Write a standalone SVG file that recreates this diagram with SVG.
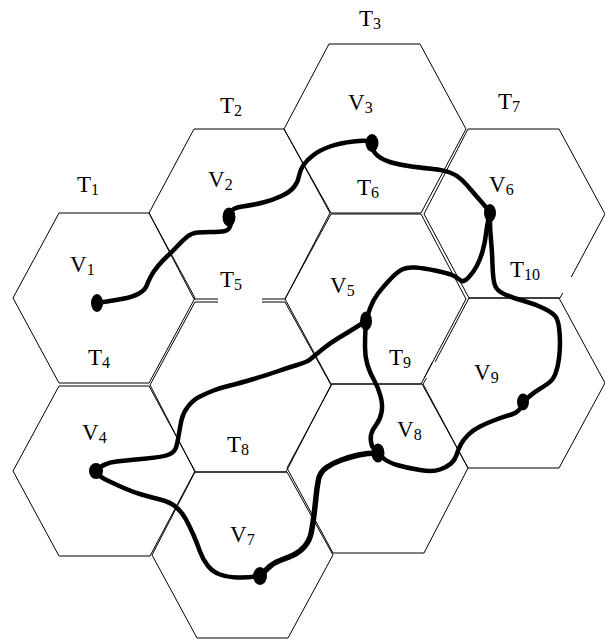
<svg xmlns="http://www.w3.org/2000/svg" width="605" height="642" viewBox="0 0 605 642">
<style>
.hex{fill:none;stroke:#000;stroke-width:1}
.lbl{font-family:"Liberation Serif","Times New Roman",serif;font-size:23px;fill:#000}
.sub{font-size:16px}
.edge{fill:none;stroke:#000;stroke-width:4.5;stroke-linecap:round;stroke-linejoin:round}
.dot{fill:#000}
</style>
<rect width="605" height="642" fill="#fff"/>
<g id="tiles">
<g id="T1"><path class="hex" d="M59,213 L149,213 L195,298 L149,383 L59,383 L13,298 Z"/><text class="lbl" x="77" y="192">T<tspan class="sub" dy="3">1</tspan></text></g>
<g id="T4"><path class="hex" d="M59,386 L149,386 L195,471 L150,556 L59,556 L13,471 Z"/><text class="lbl" x="88" y="365">T<tspan class="sub" dy="3">4</tspan></text></g>
<g id="T2"><path class="hex" d="M149,213 L194,129 L284,129 L330,213 L285,299 L262,299 M218,299 L194,299 L149,213"/><text class="lbl" x="220" y="113">T<tspan class="sub" dy="3">2</tspan></text></g>
<g id="T5"><path class="hex" d="M218,302 L195,302 L150,385 L195,472 L286,472 L331,385 L285,302 L262,302"/><text class="lbl" x="220" y="287">T<tspan class="sub" dy="3">5</tspan></text></g>
<g id="T8"><path class="hex" d="M195,472 L287,472 L333,555 L288,638 L197,638 L152,555 Z"/><text class="lbl" x="227" y="452">T<tspan class="sub" dy="3">8</tspan></text></g>
<g id="T3"><path class="hex" d="M329,44 L420,44 L466,129 L421,213 L331,213 L284,129 Z"/><text class="lbl" x="359" y="26">T<tspan class="sub" dy="3">3</tspan></text></g>
<g id="T6"><path class="hex" d="M432.6,362 L421,384 L331,384 L285,299 L331,214 L421,214 L466,299 L424.2,378"/><text class="lbl" x="357" y="195">T<tspan class="sub" dy="3">6</tspan></text></g>
<g id="T9"><path class="hex" d="M332,384 L422,384 L468,468 L424,553 L333,553 L287,468 Z"/><text class="lbl" x="389" y="365">T<tspan class="sub" dy="3">9</tspan></text></g>
<g id="T7"><path class="hex" d="M562.7,293 L560,298 L469,298 L424,214 L468,129 L559,129 L605,214 L571.3,277"/><text class="lbl" x="498" y="109">T<tspan class="sub" dy="3">7</tspan></text></g>
<g id="T10"><path class="hex" d="M435.1,362 L469,298 L559,298 L605,383 L559,468 L468,468 L423,384 L426.6,378"/><text class="lbl" x="510" y="277">T<tspan class="sub" dy="3">10</tspan></text></g>
</g>
<g id="connectors">
<path class="edge" d="M97,303 L103.5,302 Q110,301 121.5,299 Q133,297 139,293.5 Q145,290 146.5,286 Q148,282 150.5,277 Q153,272 158,266 Q163,260 167.5,256 Q172,252 177.5,246 Q183,240 187.5,236.5 Q192,233 197.5,232.5 Q203,232 211.5,232 Q220,232 225,231 Q230,230 231,223"/>
<path class="edge" d="M229,217 L230.5,212.5 Q232,208 242.5,206.5 Q253,205 263,202.5 Q273,200 281.5,196 Q290,192 294,187 Q298,182 299,176 Q300,170 303.5,165 Q307,160 313.5,155 Q320,150 330,146.5 Q340,143 353.5,141.5 Q367,140 372,142"/>
<path class="edge" d="M372,143 L372.5,147.5 Q373,152 378,156 Q383,160 391.5,162.5 Q400,165 411.5,166.5 Q423,168 433,169 Q443,170 450,172.5 Q457,175 462,180 Q467,185 472,191 Q477,197 482,202.5 Q487,208 490,213"/>
<path class="edge" d="M490,213 L490,221.5 Q490,230 491,240 Q492,250 492.5,265 Q493,280 495,285.5 Q497,291 505,294.5 Q513,298 524,301 Q535,304 544,308.5 Q553,313 555.5,316.5 Q558,320 559,327.5 Q560,335 560,342.5 Q560,350 559,358.5 Q558,367 555.5,373.5 Q553,380 548,383.5 Q543,387 538,390 Q533,393 523,402"/>
<path class="edge" d="M490,213 L488.5,219 Q487,225 486,234 Q485,243 482.5,251.5 Q480,260 476.5,266.5 Q473,273 468,278 Q463,283 460,280 Q457,277 452,275 Q447,273 435,270.5 Q423,268 415,267.5 Q407,267 402,269.5 Q397,272 390,279.5 Q383,287 378,293.5 Q373,300 370,308.5 Q367,317 366,321"/>
<path class="edge" d="M366,321 L365.5,329 Q365,337 365,347 Q365,357 367.5,365 Q370,373 374,380 Q378,387 380.5,396 Q383,405 381.5,412.5 Q380,420 376,425 Q372,430 371,435 Q370,440 372,446 Q374,450 378,453"/>
<path class="edge" d="M366,321 L356.5,327 Q347,333 338.5,338 Q330,343 321.5,350 Q313,357 310,359.5 Q307,362 297,365 Q287,368 277,371.5 Q267,375 253.5,379 Q240,383 230,385.5 Q220,388 213.5,390.5 Q207,393 200,396.5 Q193,400 188,406.5 Q183,413 181.5,420 Q180,427 179,433.5 Q178,440 176.5,446 Q175,452 169,454.5 Q163,457 146.5,458.5 Q130,460 116.5,461.5 Q103,463 96,471"/>
<path class="edge" d="M96,471 L98,474 Q100,477 108.5,481 Q117,485 125,488.5 Q133,492 141.5,494.5 Q150,497 160,499.5 Q170,502 176,507 Q182,512 186,519.5 Q190,527 193.5,535 Q197,543 200,551.5 Q203,560 208,566 Q213,572 220,574.5 Q227,577 237,577.5 Q247,578 260,576"/>
<path class="edge" style="stroke-width:5.5" d="M260,576 L268,568 Q273,563 280,560.5 Q287,558 293.5,555 Q300,552 305,546 Q310,540 311.5,531.5 Q313,523 314,515 Q315,507 316,497 Q317,487 318.5,479.5 Q320,472 326.5,467.5 Q333,463 341.5,460 Q350,457 358.5,455 Q367,453 378,453"/>
<path class="edge" d="M378,453 L382.5,457.5 Q387,462 397,465 Q407,468 420,470 Q433,472 440,469.5 Q447,467 451,463.5 Q455,460 456.5,455 Q458,450 460.5,445 Q463,440 468,435 Q473,430 480,426.5 Q487,423 495,420 Q503,417 511.5,414.5 Q520,412 523,403"/>
</g>
<g id="V1"><ellipse class="dot" cx="97" cy="303" rx="6" ry="9"/><text class="lbl" x="70" y="272">V<tspan class="sub" dy="3">1</tspan></text></g>
<g id="V2"><ellipse class="dot" cx="229" cy="217" rx="6.5" ry="9.5"/><text class="lbl" x="208" y="187">V<tspan class="sub" dy="3">2</tspan></text></g>
<g id="V3"><ellipse class="dot" cx="372" cy="143" rx="6.5" ry="9"/><text class="lbl" x="348" y="110">V<tspan class="sub" dy="3">3</tspan></text></g>
<g id="V4"><ellipse class="dot" cx="96" cy="471" rx="7" ry="8"/><text class="lbl" x="82" y="440">V<tspan class="sub" dy="3">4</tspan></text></g>
<g id="V5"><ellipse class="dot" cx="366" cy="321" rx="6" ry="9.5"/><text class="lbl" x="330" y="293">V<tspan class="sub" dy="3">5</tspan></text></g>
<g id="V6"><ellipse class="dot" cx="490" cy="213" rx="6" ry="9"/><text class="lbl" x="489" y="192">V<tspan class="sub" dy="3">6</tspan></text></g>
<g id="V7"><ellipse class="dot" cx="260" cy="576" rx="7" ry="9"/><text class="lbl" x="230" y="542">V<tspan class="sub" dy="3">7</tspan></text></g>
<g id="V8"><ellipse class="dot" cx="378" cy="453" rx="6.5" ry="9.5"/><text class="lbl" x="397" y="437">V<tspan class="sub" dy="3">8</tspan></text></g>
<g id="V9"><ellipse class="dot" cx="523" cy="402" rx="6" ry="8.5"/><text class="lbl" x="474" y="380">V<tspan class="sub" dy="3">9</tspan></text></g>
</svg>
